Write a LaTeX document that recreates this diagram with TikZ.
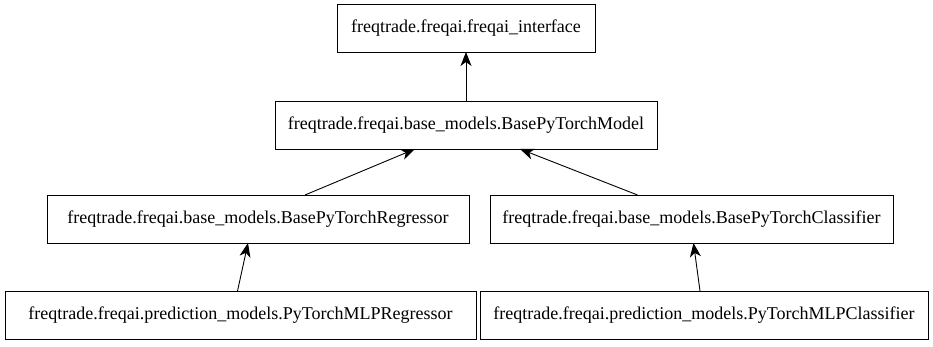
\documentclass[tikz,border=0pt]{standalone}
\usepackage{fontspec}
\setmainfont{Liberation Serif}
\usetikzlibrary{arrows.meta,positioning}

\begin{document}
\begin{tikzpicture}[x=1pt,y=-1pt,mod/.style={draw=black, line width=0.9pt, minimum height=48pt, inner xsep=12pt, outer sep=0pt, font=\fontsize{18}{20}\selectfont},inh/.style={-{Stealth[length=14pt,width=11pt,inset=4pt]}, line width=0.9pt}]
\useasboundingbox (0,0) rectangle (933,347);
\node[mod, minimum width=258pt] (iface) at (466,28) {freqtrade.freqai.freqai\_interface};
\node[mod, minimum width=382pt] (model) at (466,125) {freqtrade.freqai.base\_models.BasePyTorchModel};
\node[mod, minimum width=422pt] (reg) at (258,219) {freqtrade.freqai.base\_models.BasePyTorchRegressor};
\node[mod, minimum width=403pt] (cls) at (691.5,219) {freqtrade.freqai.base\_models.BasePyTorchClassifier};
\node[mod, minimum width=471pt] (mlpreg) at (240.5,315) {freqtrade.freqai.prediction\_models.PyTorchMLPRegressor};
\node[mod, minimum width=448pt] (mlpcls) at (704,315) {freqtrade.freqai.prediction\_models.PyTorchMLPClassifier};
\draw[inh] (model.north) -- (iface.south);
\draw[inh] ([xshift=47pt]reg.north) -- ([xshift=-51pt]model.south);
\draw[inh] ([xshift=-54pt]cls.north) -- ([xshift=54pt]model.south);
\draw[inh] ([xshift=-3pt]mlpreg.north) -- ([xshift=-10pt]reg.south);
\draw[inh] ([xshift=-4pt]mlpcls.north) -- ([xshift=2pt]cls.south);
\end{tikzpicture}
\end{document}
